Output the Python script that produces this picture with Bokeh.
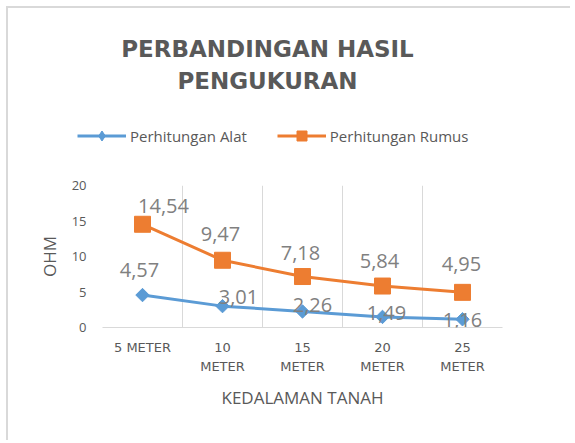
import numpy as np
from bokeh.plotting import figure
from bokeh.layouts import column
from bokeh.models import (ColumnDataSource, LabelSet, Label, Legend, LegendItem,
                          FixedTicker, Range1d, LinearAxis)
from bokeh.core.properties import value
from bokeh.embed import file_html
from bokeh.resources import INLINE

# ---- data ----
categories = ["5 METER", "10 METER", "15 METER", "20 METER", "25 METER"]
alat = [4.57, 3.01, 2.26, 1.49, 1.16]
rumus = [14.54, 9.47, 7.18, 5.84, 4.95]
y_ticks = [0, 5, 10, 15, 20]
title_lines = ["PERBANDINGAN HASIL", "PENGUKURAN"]
x_title = "KEDALAMAN TANAH"
y_title = "OHM"
series_names = ["Perhitungan Alat", "Perhitungan Rumus"]

# ---- styles ----
BLUE = "#5b9bd5"
ORANGE = "#ed7d31"
TXT = "#595959"
LBL = "#808080"
GRID = "#d9d9d9"
W = 562
TOP_H = 162
# data-label offsets in pixels (style only)
alat_dx = [-3, 16, 10, 4, 0]
alat_dy = [25, 9, 6, 4, -1]
rumus_dx = [21, -2, -2, -3, -1]
rumus_dy = [18, 26, 24, 25, 28]


def fmt(v):
    return f"{v:.2f}".replace(".", ",")


n = len(categories)
xpos = [i + 0.5 for i in range(n)]          # category centres on the x scale
src = ColumnDataSource(dict(
    x=xpos, alat=alat, rumus=rumus,
    alat_txt=[fmt(v) for v in alat], rumus_txt=[fmt(v) for v in rumus],
    adx=alat_dx, ady=alat_dy, rdx=rumus_dx, rdy=rumus_dy,
))

# ================= header figure: title + legend =================
t = figure(width=W, height=TOP_H, x_range=Range1d(0, W), y_range=Range1d(0, TOP_H),
           min_border=0, x_axis_location=None, y_axis_location=None,
           title_location=None, output_backend="svg", toolbar_location=None)
t.frame_align = False
t.grid.visible = False
t.outline_line_color = None
t.background_fill_color = "white"
t.border_fill_color = "white"

for txt, yy in zip(title_lines, [122, 90]):
    t.add_layout(Label(x=259, y=yy, x_units="screen", y_units="screen", text=txt,
                       text_align="center", text_baseline="middle",
                       text_font="DejaVu Sans", text_font_size="23px",
                       text_font_style="bold", text_color=TXT))

# hidden copies of the series, used only for the legend swatches
lb = t.line(x="x", y="alat", source=src, line_color=BLUE, line_width=3, visible=False)
mb = t.scatter(x="x", y="alat", source=src, marker="diamond",
               size=9.5, fill_color=BLUE, line_color=BLUE, visible=False)
lo = t.line(x="x", y="rumus", source=src, line_color=ORANGE, line_width=3, visible=False)
mo = t.scatter(x="x", y="rumus", source=src, marker="square", size=16,
               fill_color=ORANGE, line_color=ORANGE, visible=False)
legend = Legend(items=[LegendItem(label=series_names[0], renderers=[lb, mb]),
                       LegendItem(label=series_names[1], renderers=[lo, mo])],
                location=(69, 22), orientation="horizontal",
                glyph_width=49, glyph_height=25, label_standoff=4, spacing=30,
                padding=0, margin=0, border_line_color=None,
                background_fill_alpha=0, inactive_fill_alpha=0,
                label_text_font="Open Sans", label_text_font_size="15px",
                label_text_color=TXT)
t.add_layout(legend, "center")

# ================= main chart =================
p = figure(x_range=Range1d(0, n), y_range=Range1d(0, 20),
           frame_width=400, frame_height=142,
           min_border_left=94, min_border_right=68,
           min_border_top=15, min_border_bottom=113,
           title_location=None, output_backend="svg", toolbar_location=None)
p.frame_align = False
p.outline_line_color = None
p.background_fill_color = "white"
p.border_fill_color = "white"

# grid: vertical lines at category boundaries
p.ygrid.visible = False
p.xgrid.ticker = FixedTicker(ticks=list(range(1, n)))
p.xgrid.grid_line_color = GRID
p.xgrid.grid_line_width = 1

# y axis
p.yaxis.ticker = FixedTicker(ticks=y_ticks)
p.yaxis.axis_line_color = None
p.yaxis.major_tick_line_color = None
p.yaxis.minor_tick_line_color = None
p.yaxis.major_tick_out = 0
p.yaxis.major_label_standoff = 16
p.yaxis.major_label_text_font = "Open Sans"
p.yaxis.major_label_text_font_size = "13px"
p.yaxis.major_label_text_color = TXT
p.yaxis.axis_label = y_title
p.yaxis.axis_label_text_font = "Open Sans"
p.yaxis.axis_label_text_font_size = "17px"
p.yaxis.axis_label_text_font_style = "normal"
p.yaxis.axis_label_text_color = TXT
p.yaxis.axis_label_standoff = 8

# x axis: first line of the category labels
xa = p.xaxis[0]
xa.ticker = FixedTicker(ticks=xpos)
xa.axis_line_color = GRID
xa.axis_line_width = 1
xa.major_tick_line_color = None
xa.minor_tick_line_color = None
xa.major_tick_out = 0
xa.major_label_standoff = 12
xa.major_label_overrides = {xp: (c if i == 0 else c.split(" ")[0])
                            for i, (xp, c) in enumerate(zip(xpos, categories))}
xa.major_label_text_font = "DejaVu Sans"
xa.major_label_text_font_size = "13px"
xa.major_label_text_color = TXT

# second line of the wrapped category labels + axis title
xa2 = LinearAxis(ticker=FixedTicker(ticks=xpos),
                 axis_line_color=None, major_tick_line_color=None,
                 minor_tick_line_color=None, major_tick_out=0,
                 major_label_standoff=1,
                 major_label_overrides={xp: ("" if i == 0 else c.split(" ", 1)[1])
                                        for i, (xp, c) in enumerate(zip(xpos, categories))},
                 major_label_text_font="DejaVu Sans",
                 major_label_text_font_size="13px",
                 major_label_text_color=TXT,
                 axis_label=x_title, axis_label_text_font="Open Sans",
                 axis_label_text_font_size="17px",
                 axis_label_text_font_style="normal",
                 axis_label_text_color=TXT, axis_label_standoff=9)
p.add_layout(xa2, "below")

# series
p.line(x="x", y="alat", source=src, line_color=BLUE, line_width=3)
p.scatter(x="x", y="alat", source=src, marker="square", angle=np.pi / 4,
          size=9.5, fill_color=BLUE, line_color=BLUE)
p.line(x="x", y="rumus", source=src, line_color=ORANGE, line_width=3)
p.scatter(x="x", y="rumus", source=src, marker="square", size=16,
          fill_color=ORANGE, line_color=ORANGE)

# data labels
for ycol, tcol, dx, dy in [("alat", "alat_txt", "adx", "ady"),
                           ("rumus", "rumus_txt", "rdx", "rdy")]:
    p.add_layout(LabelSet(x="x", y=ycol, text=tcol, source=src,
                          x_offset=dx, y_offset=dy,
                          text_align="center", text_baseline="middle",
                          text_font=value("Open Sans"), text_font_size="20px",
                          text_color=LBL))

layout = column(t, p, spacing=0,
                styles={"margin-left": "6px", "margin-top": "6px",
                        "border-left": "2px solid #d9d9d9",
                        "border-top": "2px solid #d9d9d9"})

open("out.html", "w").write(file_html(layout, INLINE))
